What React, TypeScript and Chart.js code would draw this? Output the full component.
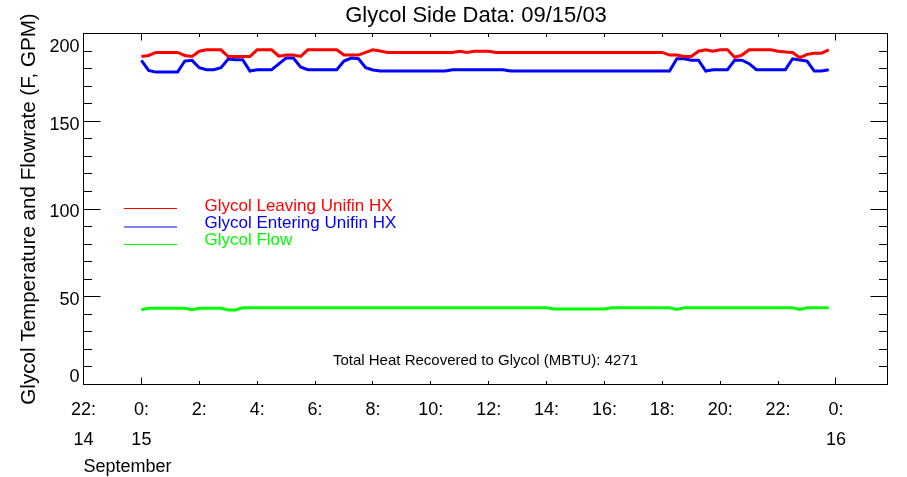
import React, { useEffect, useRef } from "react";
import { Chart, registerables } from "chart.js";

Chart.register(...registerables);

const chartTitle = "Glycol Side Data: 09/15/03";
const yAxisTitle = "Glycol Temperature and Flowrate (F, GPM)";
const xAxisTitle = "September";
const totalHeatLabel = "Total Heat Recovered to Glycol (MBTU): ";
const totalHeat = 4271;

const seriesNames = ["Glycol Leaving Unifin HX", "Glycol Entering Unifin HX", "Glycol Flow"];
const seriesColors = ["#ff0000", "#0000ff", "#00ff00"];

// hours since 0:00 on Sept 15 (15-minute samples)
const sampleHours = [0,0.25,0.5,0.75,1,1.25,1.5,1.75,2,2.25,2.5,2.75,3,3.25,3.5,3.75,4,4.25,4.5,4.75,5,5.25,5.5,5.75,6,6.25,6.5,6.75,7,7.25,7.5,7.75,8,8.25,8.5,8.75,9,9.25,9.5,9.75,10,10.25,10.5,10.75,11,11.25,11.5,11.75,12,12.25,12.5,12.75,13,13.25,13.5,13.75,14,14.25,14.5,14.75,15,15.25,15.5,15.75,16,16.25,16.5,16.75,17,17.25,17.5,17.75,18,18.25,18.5,18.75,19,19.25,19.5,19.75,20,20.25,20.5,20.75,21,21.25,21.5,21.75,22,22.25,22.5,22.75,23,23.25,23.5,23.75];

const leavingTemp = [
  186.9,187.5,189.2,189.2,189.2,189.2,187.5,186.9,189.9,190.7,
  190.7,190.7,186.9,186.9,186.9,186.9,190.7,190.7,190.7,187.1,
  187.7,187.7,186.9,190.7,190.7,190.7,190.7,190.7,187.7,187.7,
  187.7,189.2,190.7,190.0,189.2,189.2,189.2,189.2,189.2,189.2,
  189.2,189.2,189.2,189.2,189.9,189.2,189.9,189.9,189.9,189.2,
  189.2,189.2,189.2,189.2,189.2,189.2,189.2,189.2,189.2,189.2,
  189.2,189.2,189.2,189.2,189.2,189.2,189.2,189.2,189.2,189.2,
  189.2,189.2,189.2,187.7,187.7,186.9,186.9,189.9,190.7,189.9,
  190.7,190.7,186.5,187.7,190.7,190.7,190.7,190.7,189.9,189.5,
  189.2,186.2,188.1,188.8,188.8,190.7
];

const enteringTemp = [
  184.7,179.0,178.0,178.0,178.0,178.0,184.3,184.7,180.5,179.4,
  179.4,180.5,185.4,185.1,185.1,178.6,179.4,179.4,179.4,182.7,
  186.0,186.0,180.9,179.4,179.4,179.4,179.4,179.4,184.3,186.0,
  185.6,180.5,179.2,178.6,178.6,178.6,178.6,178.6,178.6,178.6,
  178.6,178.6,178.6,179.4,179.4,179.4,179.4,179.4,179.4,179.4,
  179.4,178.6,178.6,178.6,178.6,178.6,178.6,178.6,178.6,178.6,
  178.6,178.6,178.6,178.6,178.6,178.6,178.6,178.6,178.6,178.6,
  178.6,178.6,178.6,178.6,185.6,185.6,184.8,184.8,178.6,179.4,
  179.4,179.4,184.8,184.8,182.8,179.4,179.4,179.4,179.4,179.4,
  185.6,184.9,184.3,178.6,178.6,179.4
];

const glycolFlow = [
  42.6,43.4,43.4,43.4,43.4,43.4,43.4,42.6,43.4,43.4,
  43.4,43.4,42.5,42.5,43.7,43.7,43.7,43.7,43.7,43.7,
  43.7,43.7,43.7,43.7,43.7,43.7,43.7,43.7,43.7,43.7,
  43.7,43.7,43.7,43.7,43.7,43.7,43.7,43.7,43.7,43.7,
  43.7,43.7,43.7,43.7,43.7,43.7,43.7,43.7,43.7,43.7,
  43.7,43.7,43.7,43.7,43.7,43.7,43.7,43.0,43.0,43.0,
  43.0,43.0,43.0,43.0,43.0,43.7,43.7,43.7,43.7,43.7,
  43.7,43.7,43.7,43.7,42.8,43.7,43.7,43.7,43.7,43.7,
  43.7,43.7,43.7,43.7,43.7,43.7,43.7,43.7,43.7,43.7,
  43.7,42.8,43.7,43.7,43.7,43.7
];

const xMin = -2;
const xMax = 25.78;
const xTickValues = [-2, 0, 2, 4, 6, 8, 10, 12, 14, 16, 18, 20, 22, 24];
const xTickLabels: (string | string[])[] = [
  ["22:", "14"], ["0:", "15"], "2:", "4:", "6:", "8:", "10:", "12:", "14:", "16:", "18:", "20:", "22:", ["0:", "16"]
];
const yMin = 0;
const yMax = 200;
const yMinorStep = 10;
const yLabelValues = [0, 50, 100, 150, 200];

const FONT = '"Liberation Sans", Arial, Helvetica, sans-serif';

const idlFramePlugin = {
  id: "idlFrame",
  afterDraw(chart: any) {
    const { ctx, chartArea: a, scales } = chart;
    const xs = scales.x;
    const ys = scales.y;
    ctx.save();

    // title
    ctx.fillStyle = "#000";
    ctx.font = `22px ${FONT}`;
    ctx.textAlign = "center";
    ctx.textBaseline = "middle";
    ctx.fillText(chartTitle, 476, 16);

    ctx.strokeStyle = "#000";
    ctx.lineWidth = 1;
    ctx.strokeRect(a.left, a.top, a.right - a.left, a.bottom - a.top);

    ctx.beginPath();
    ys.ticks.forEach((t: any) => {
      const y = Math.floor(ys.getPixelForValue(t.value)) + 0.5;
      const len = t.value % 50 === 0 ? 17 : 8.5;
      ctx.moveTo(a.left, y);
      ctx.lineTo(a.left + len, y);
      ctx.moveTo(a.right, y);
      ctx.lineTo(a.right - len, y);
    });
    xs.ticks.forEach((t: any) => {
      const x = Math.floor(xs.getPixelForValue(t.value)) + 0.5;
      const len = t.value % 24 === 0 ? 7 : 3.5;
      ctx.moveTo(x, a.bottom);
      ctx.lineTo(x, a.bottom - len);
      ctx.moveTo(x, a.top);
      ctx.lineTo(x, a.top + len);
    });
    ctx.stroke();

    // y tick labels (IDL style: kept inside the frame at the ends)
    ctx.fillStyle = "#000";
    ctx.font = `18px ${FONT}`;
    ctx.textAlign = "right";
    ctx.textBaseline = "middle";
    yLabelValues.forEach((v) => {
      const p = ys.getPixelForValue(v) + 3.5;
      const y = Math.min(Math.max(p, a.top + 13.5), a.bottom - 7);
      ctx.fillText(String(v), a.left - 4, y);
    });

    // legend
    const lineY = [208.5, 227, 244.5];
    const textY = [206.7, 223.4, 240.1];
    chart.data.datasets.forEach((ds: any, i: number) => {
      ctx.strokeStyle = ds.borderColor;
      ctx.lineWidth = 1;
      ctx.beginPath();
      ctx.moveTo(124, lineY[i]);
      ctx.lineTo(177, lineY[i]);
      ctx.stroke();
      ctx.fillStyle = ds.borderColor;
      ctx.font = `17px ${FONT}`;
      ctx.textAlign = "left";
      ctx.textBaseline = "middle";
      ctx.fillText(ds.label, 204.5, textY[i]);
    });

    // annotation
    ctx.fillStyle = "#000";
    ctx.font = `15px ${FONT}`;
    ctx.textAlign = "center";
    ctx.textBaseline = "middle";
    ctx.fillText(totalHeatLabel + totalHeat, (a.left + a.right) / 2, 361);
    ctx.restore();
  },
};

export default function App() {
  const canvasRef = useRef<HTMLCanvasElement | null>(null);

  useEffect(() => {
    document.body.style.margin = "0";
    const canvas = canvasRef.current;
    if (!canvas) return;
    Chart.defaults.font.family = FONT;
    Chart.defaults.color = "#000";

    const series = [leavingTemp, enteringTemp, glycolFlow];
    const chart = new Chart(canvas, {
      type: "line",
      data: {
        datasets: series.map((vals, i) => ({
          label: seriesNames[i],
          data: vals.map((v, j) => ({ x: sampleHours[j], y: v })),
          borderColor: seriesColors[i],
          backgroundColor: seriesColors[i],
          borderWidth: 3,
          pointRadius: 0,
          tension: 0,
          fill: false,
        })),
      },
      options: {
        responsive: false,
        animation: false,
        devicePixelRatio: 1,
        layout: { padding: { left: 0, right: 19.5, top: 33.5, bottom: 0 } },
        plugins: {
          legend: { display: false },
          tooltip: { enabled: false },
          title: { display: false },
        },
        scales: {
          x: {
            type: "linear",
            position: "bottom",
            min: xMin,
            max: xMax,
            grid: { display: false },
            border: { display: false },
            afterBuildTicks: (s: any) => {
              s.ticks = xTickValues.map((v) => ({ value: v }));
            },
            afterFit: (s: any) => {
              s.height = 92.5;
            },
            ticks: {
              autoSkip: false,
              maxRotation: 0,
              minRotation: 0,
              padding: 3,
              color: "#000",
              font: { size: 18, lineHeight: 29.5 / 18, family: FONT },
              callback: (v: any) => {
                const i = xTickValues.indexOf(Number(v));
                return i >= 0 ? xTickLabels[i] : "";
              },
            },
            title: {
              display: true,
              text: xAxisTitle,
              align: "start",
              color: "#000",
              font: { size: 18, lineHeight: 1, family: FONT },
              padding: { top: 0, bottom: 1 },
            },
          },
          y: {
            type: "linear",
            position: "left",
            min: yMin,
            max: yMax,
            grid: { display: false },
            border: { display: false },
            ticks: { display: false, stepSize: yMinorStep },
            afterFit: (s: any) => {
              s.width = 83.5;
            },
            title: {
              display: true,
              text: yAxisTitle,
              color: "#000",
              font: { size: 20.6, family: FONT },
              padding: { top: 16.5, bottom: 0 },
            },
          },
        },
      },
      plugins: [idlFramePlugin],
    });
    return () => chart.destroy();
  }, []);

  return (
    <div style={{ width: 907, height: 477 }}>
      <canvas ref={canvasRef} width={907} height={477} style={{ display: "block" }} />
    </div>
  );
}
